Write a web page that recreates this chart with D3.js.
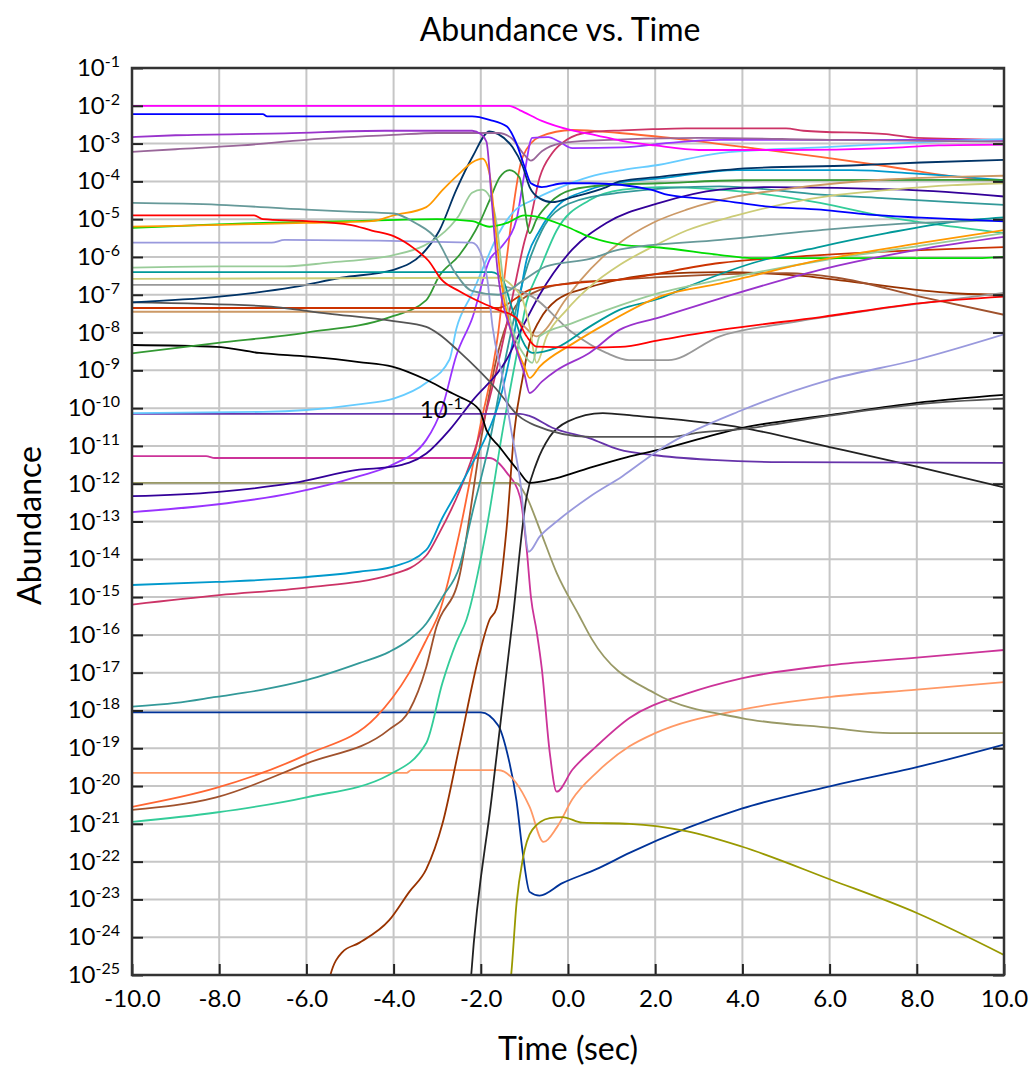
<!DOCTYPE html>
<html>
<head>
<meta charset="utf-8">
<script src="https://cdn.jsdelivr.net/npm/d3@7"></script>
<style>
  body { margin: 0; background: #fff; }
  svg { display: block; font-family: Lato, "Open Sans", sans-serif; }
</style>
</head>
<body>
<svg id="chart" width="1033" height="1068"></svg>
<script>
// axis ticks
const yExponents = d3.range(-25, 0);          // 10^-25 ... 10^-1
const timeTicks = d3.range(-10, 11, 2);

// each series: [time (sec), log10(abundance)]
const magenta = [[-10,-2],[-1.35,-2],[-1.1,-2.12],[-0.6,-2.4],[0.05,-2.64],[0.65,-2.78],[1.2,-2.92],[2.0,-3.05],[3,-3.17],[5,-3.17],[7.3,-3.12],[8.5,-3.05],[10,-3.03]];
const blue = [[-10,-2.22],[-7,-2.22],[-6.9,-2.28],[-2.2,-2.28],[-1.8,-2.37],[-1.4,-2.55],[-1.2,-2.95],[-1.0,-3.6],[-0.85,-4.05],[-0.6,-4.15],[-0.1,-4.05],[0.5,-4.05],[1.9,-4.22],[2.3,-4.36],[3.5,-4.5],[4.6,-4.67],[5.8,-4.75],[6.9,-4.88],[8.1,-4.96],[10,-5.06]];
const orchid = [[-10,-2.83],[-9,-2.78],[-6.5,-2.73],[-4.2,-2.66],[-2.2,-2.66],[-2.0,-2.75],[-1.87,-2.95],[-1.75,-4.5],[-1.62,-6.3],[-1.3,-8.0],[-1.0,-9.1],[-0.88,-9.6],[-0.6,-9.3],[-0.26,-9.0],[0.49,-8.54],[1.18,-7.93],[2.1,-7.6],[3.48,-7.1],[5.78,-6.34],[8.07,-5.8],[10,-5.47]];
const plum = [[-10,-3.22],[-9,-3.15],[-7.5,-3.05],[-6,-2.9],[-4,-2.77],[-3,-2.72],[-1.6,-2.72],[-1.3,-2.85],[-1.0,-3.3],[-0.85,-3.45],[-0.6,-3.2],[-0.2,-3.0],[0.5,-2.92],[3,-2.85],[6,-2.9],[10,-2.95]];
const cadet = [[-10,-4.57],[-8,-4.62],[-6,-4.75],[-5,-4.8],[-4,-4.85],[-3.5,-5.1],[-3,-5.55],[-2.6,-6.4],[-2.2,-6.9],[-1.6,-7.0],[-1.0,-6.6],[-0.5,-6.25],[0.5,-6.05],[1.2,-5.8],[3.5,-5.55],[5.8,-5.29],[8,-5.1],[10,-5.03]];
const red = [[-10,-4.9],[-7.2,-4.9],[-7,-5.0],[-6,-5.05],[-5,-5.15],[-4.5,-5.3],[-4,-5.45],[-3.5,-5.8],[-3.2,-6.1],[-2.9,-6.6],[-2.5,-6.9],[-2.0,-7.2],[-1.6,-7.4],[-1.2,-7.6],[-0.95,-8.1],[-0.72,-8.37],[0.5,-8.4],[1.2,-8.38],[2.1,-8.2],[3.5,-7.93],[5.8,-7.59],[8.1,-7.22],[10,-7.05]];
const orange = [[-10,-5.2],[-8,-5.15],[-6,-5.1],[-4.5,-5.05],[-4,-4.9],[-3.25,-4.68],[-2.88,-4.23],[-2.5,-3.8],[-2.2,-3.5],[-1.96,-3.4],[-1.8,-3.8],[-1.7,-4.8],[-1.55,-6.5],[-1.3,-8.0],[-1.0,-8.9],[-0.88,-9.2],[-0.65,-8.9],[0.1,-8.3],[0.9,-7.75],[2.1,-7.05],[3.5,-6.7],[5.8,-6.08],[8.1,-5.63],[10,-5.29]];
const green = [[-10,-5.23],[-7,-5.1],[-5,-5.05],[-3,-5.0],[-2.2,-5.05],[-1.8,-5.2],[-1.4,-5.1],[-1.0,-4.9],[-0.65,-4.95],[-0.03,-5.2],[0.5,-5.47],[1.25,-5.68],[2.1,-5.75],[3.5,-5.95],[4.2,-6.03],[9.5,-6.03],[10,-6.0]];
const periwinkle = [[-10,-5.62],[-6.8,-5.62],[-6.5,-5.55],[-2.2,-5.62],[-2.0,-5.9],[-1.85,-6.6],[-1.73,-7.85],[-1.5,-9.2],[-1.3,-10.6],[-1.1,-11.9],[-0.9,-13.8],[-0.65,-13.4],[-0.26,-13.0],[0.49,-12.35],[1.25,-11.8],[2.1,-11.1],[4,-10.05],[6,-9.25],[8,-8.72],[10,-8.05]];
const lightGreen = [[-10,-6.28],[-8,-6.25],[-6.5,-6.25],[-5.5,-6.15],[-4,-5.95],[-3.3,-5.7],[-2.95,-5.45],[-2.5,-4.9],[-2.2,-4.3],[-1.97,-4.22],[-1.8,-4.4],[-1.64,-5.1],[-1.5,-6.5],[-1.25,-8.0],[-1.0,-8.6],[-0.82,-8.8],[-0.65,-8.1],[0.1,-7.75],[0.9,-7.4],[2.1,-6.95],[3.5,-6.6],[5.8,-6.1],[8.1,-5.7],[10,-5.37]];
const teal = [[-10,-6.4],[-1.75,-6.4],[-1.5,-6.6],[-1.3,-7.3],[-1.05,-8.2],[-0.82,-8.54],[-0.26,-8.4],[0.49,-7.85],[1.18,-7.4],[2.1,-7.1],[2.72,-6.8],[4.24,-6.16],[5.78,-5.73],[7.31,-5.37],[8.83,-5.07],[10,-4.95]];
const khaki = [[-10,-6.58],[-1.6,-6.55],[-1.25,-6.8],[-1.04,-7.13],[-0.88,-7.85],[-0.72,-8.8],[-0.49,-8.1],[-0.03,-7.4],[0.49,-6.8],[1.2,-6.2],[1.94,-5.73],[2.72,-5.3],[3.87,-4.9],[5.02,-4.58],[6.17,-4.36],[7.31,-4.23],[8.83,-4.1],[10,-4.05]];
const gray = [[-10,-6.74],[-2,-6.74],[-1.4,-6.8],[-0.82,-7.05],[0.1,-8.0],[0.88,-8.54],[1.4,-8.73],[2.3,-8.73],[3.48,-8.1],[5.02,-7.75],[7,-7.4],[10,-6.95]];
const navy = [[-10,-7.2],[-8,-7.05],[-6.3,-6.8],[-5.2,-6.55],[-4,-6.34],[-3.25,-5.8],[-2.95,-5.3],[-2.56,-4.22],[-2.19,-3.35],[-1.8,-2.68],[-1.6,-2.75],[-1.27,-3.1],[-1.04,-3.6],[-0.88,-4.15],[-0.65,-4.45],[-0.36,-4.55],[0.1,-4.42],[0.88,-4.15],[1.18,-4.0],[2.1,-3.88],[2.7,-3.8],[4.2,-3.65],[6.5,-3.58],[8.1,-3.5],[10,-3.43]];
const darkGray = [[-10,-7.2],[-7,-7.3],[-5.5,-7.5],[-4,-7.7],[-3.25,-7.85],[-2.95,-8.05],[-2.5,-8.5],[-1.64,-9.5],[-1.14,-10.2],[-0.77,-10.45],[0.5,-10.76],[2.33,-10.76],[3.0,-10.65],[4.0,-10.55],[6.0,-10.2],[8,-9.9],[10,-9.75]];
const brick = [[-10,-7.35],[-1.6,-7.35],[-1.2,-7.1],[-0.88,-6.87],[0.1,-6.7],[1.18,-6.6],[3.48,-6.16],[5.78,-5.95],[10,-5.74]];
const tan = [[-10,-7.45],[-1.6,-7.45],[-1.2,-7.6],[-0.95,-7.9],[-0.72,-8.1],[-0.5,-7.9],[-0.1,-7.2],[0.3,-6.6],[0.8,-6.0],[1.18,-5.63],[1.94,-5.1],[2.72,-4.75],[3.87,-4.4],[5.02,-4.2],[6.17,-4.05],[7.31,-3.95],[8.83,-3.88],[10,-3.85]];
const black = [[-10,-8.33],[-8.07,-8.38],[-7.08,-8.54],[-5.94,-8.64],[-4.79,-8.78],[-4.03,-8.9],[-3.25,-9.25],[-2.72,-9.57],[-2.49,-9.7],[-2.03,-10.05],[-1.87,-10.58],[-1.57,-11.03],[-1.11,-11.7],[-0.88,-11.98],[-0.26,-11.85],[0.49,-11.58],[1.34,-11.3],[2.1,-11.1],[4.0,-10.52],[6.03,-10.18],[8.0,-9.86],[10,-9.65]];
const darkGreen = [[-10,-8.55],[-8.07,-8.28],[-6,-8.0],[-4.1,-7.6],[-3.25,-7.14],[-2.95,-6.5],[-2.49,-5.95],[-2.03,-5.1],[-1.8,-4.5],[-1.57,-3.9],[-1.34,-3.7],[-1.11,-3.9],[-1.0,-4.67],[-0.88,-5.37],[-0.72,-5.0],[-0.42,-4.57],[0.1,-4.22],[0.88,-4.1],[2.1,-4.05],[4,-3.97],[10,-3.96]];
const sky = [[-10,-10.13],[-7,-10.1],[-6,-10.05],[-4.8,-9.9],[-4,-9.75],[-3.25,-9.33],[-2.72,-8.72],[-2.56,-7.9],[-2.19,-6.95],[-1.87,-6.08],[-1.6,-5.4],[-1.2,-4.75],[-0.82,-4.5],[-0.26,-4.2],[0.49,-3.88],[1.25,-3.7],[2.1,-3.56],[3.48,-3.25],[5.78,-3.1],[8,-2.97],[10,-2.88]];
const rebecca = [[-10,-10.15],[-1.1,-10.15],[-0.9,-10.2],[-0.36,-10.52],[0.5,-10.8],[1.18,-11.1],[1.94,-11.24],[3.3,-11.37],[4.9,-11.43],[10,-11.45]];
const pink = [[-10,-11.27],[-8.3,-11.27],[-8.1,-11.32],[-1.8,-11.32],[-1.41,-11.7],[-1.1,-12.35],[-0.95,-13.7],[-0.85,-15.0],[-0.72,-15.9],[-0.6,-16.9],[-0.42,-19.1],[-0.26,-20.15],[0.1,-19.57],[0.65,-18.95],[1.41,-18.2],[2.74,-17.55],[3.98,-17.15],[6.03,-16.8],[8.0,-16.6],[10,-16.4]];
const oliveGray = [[-10,-11.98],[-1.2,-11.98],[-0.95,-12.35],[-0.65,-13.2],[-0.26,-14.36],[0.26,-15.5],[0.54,-16.1],[2.0,-17.55],[3.98,-18.2],[6.03,-18.46],[7.4,-18.6],[10,-18.6]];
const indigo = [[-10,-12.33],[-8.07,-12.22],[-6.3,-11.98],[-4.79,-11.63],[-4.03,-11.55],[-3.25,-11.2],[-2.72,-10.58],[-2.19,-9.8],[-1.41,-8.72],[-1.04,-7.85],[-0.65,-7.0],[0.1,-5.8],[0.88,-5.1],[2.1,-4.57],[3.48,-4.22],[4.63,-4.15],[7.7,-4.22],[10,-4.4]];
const violet = [[-10,-12.75],[-8.07,-12.55],[-6.33,-12.25],[-4.79,-11.8],[-4.03,-11.5],[-3.25,-10.84],[-2.88,-9.97],[-2.56,-8.6],[-2.19,-7.6],[-1.8,-6.08],[-1.5,-5.7],[-1.18,-5.0],[-1.0,-3.8],[-0.82,-2.85],[-0.45,-2.83],[-0.2,-2.95],[0.1,-3.12],[1.25,-3.1],[2.33,-2.98],[3.5,-2.9],[10,-2.9]];
const cerulean = [[-10,-14.68],[-8.07,-14.6],[-6.33,-14.5],[-4.79,-14.33],[-4.03,-14.2],[-3.25,-13.75],[-2.88,-12.9],[-2.49,-12.1],[-2.19,-11.45],[-1.9,-10.8],[-1.57,-9.8],[-1.27,-8.27],[-0.95,-6.08],[-0.65,-5.3],[-0.26,-4.67],[0.49,-4.22],[1.25,-4.02],[2.1,-3.92],[3.87,-3.7],[6.5,-3.7],[8.07,-3.8],[10,-3.97]];
const crimson = [[-10,-15.2],[-8,-14.95],[-6,-14.75],[-4.03,-14.4],[-3.25,-13.9],[-2.95,-13.3],[-2.49,-12.2],[-2.0,-10.6],[-1.6,-8.8],[-1.3,-7.2],[-1.0,-5.6],[-0.88,-5.1],[-0.65,-3.9],[-0.36,-3.25],[-0.03,-2.9],[0.49,-2.7],[1.25,-2.65],[1.94,-2.62],[2.7,-2.6],[5,-2.6],[5.4,-2.66],[7.3,-2.75],[8.0,-2.85],[10,-2.9]];
const tealGray = [[-10,-17.9],[-9,-17.8],[-8.07,-17.64],[-7,-17.45],[-6,-17.2],[-4.79,-16.75],[-4.1,-16.45],[-3.64,-16.13],[-3.25,-15.7],[-2.88,-15.0],[-2.49,-14.2],[-2.2,-12.8],[-1.8,-10.9],[-1.4,-8.5],[-1.0,-6.5],[-0.6,-5.3],[0,-4.6],[1.18,-4.3],[3.48,-4.13],[5.8,-4.35],[7.3,-4.45],[8.8,-4.55],[10,-4.62]];
const aquamarine = [[-10,-20.95],[-8.07,-20.7],[-6,-20.3],[-4.1,-19.7],[-3.25,-18.86],[-2.88,-17.27],[-2.56,-16.2],[-2.33,-15.6],[-1.87,-13.2],[-1.5,-10.6],[-1.18,-8.6],[-0.95,-7.2],[-0.65,-6.34],[-0.26,-5.3],[0.49,-4.5],[1.25,-4.22],[2.1,-4.15],[4.24,-4.3],[5.78,-4.57],[7.31,-4.94],[8.83,-5.2],[10,-5.37]];
const tomato = [[-10,-20.55],[-8.07,-20.05],[-6,-19.17],[-4.4,-18.17],[-4.03,-17.67],[-3.64,-17.0],[-3.25,-16.13],[-2.95,-15.4],[-2.49,-13.3],[-2.03,-10.58],[-1.6,-8.0],[-1.41,-6.08],[-1.04,-3.35],[-0.65,-2.82],[0.1,-2.64],[1.18,-2.72],[2.7,-2.9],[4.24,-3.12],[5.78,-3.35],[7.31,-3.6],[8.83,-3.87],[10,-4.0]];
const sienna = [[-10,-20.63],[-8.07,-20.3],[-6,-19.4],[-4.1,-18.5],[-3.64,-18.0],[-3.25,-16.85],[-3.02,-15.8],[-2.5,-14.5],[-1.96,-10.6],[-1.6,-8.5],[-1.2,-7.3],[-0.8,-6.95],[0,-6.7],[1.18,-6.6],[2.72,-6.5],[5.02,-6.43],[6.17,-6.55],[8.07,-7.05],[10,-7.53]];
const darkBrown = [[-5.55,-25.5],[-5.45,-25.0],[-5.18,-24.4],[-4.79,-24.15],[-4.1,-23.55],[-3.64,-22.8],[-3.25,-22.2],[-2.88,-21.0],[-2.49,-18.95],[-2.03,-16.5],[-1.8,-15.6],[-1.64,-15.3],[-1.41,-13.2],[-1.23,-10.6],[-1.04,-9.2],[-0.88,-8.27],[-0.65,-7.67],[-0.26,-7.14],[0.49,-6.8],[1.18,-6.6],[2.1,-6.45],[3.48,-6.4],[5.38,-6.5],[6.53,-6.66],[8.83,-6.96],[10,-7.0]];
const darkBlue = [[-10,-18.05],[-2.0,-18.05],[-1.6,-18.4],[-1.4,-19.1],[-1.18,-20.4],[-1.04,-21.75],[-0.88,-22.8],[-0.65,-22.9],[-0.13,-22.57],[0.65,-22.2],[1.41,-21.77],[3.98,-20.6],[6.03,-20.0],[8.0,-19.5],[10,-18.9]];
const salmon = [[-10,-19.65],[-3.7,-19.65],[-3.6,-19.58],[-1.6,-19.58],[-1.2,-19.9],[-0.88,-20.55],[-0.56,-21.48],[-0.26,-21.1],[0.1,-20.35],[0.65,-19.65],[1.41,-18.95],[2.0,-18.6],[3.98,-17.98],[6.03,-17.64],[8.0,-17.45],[10,-17.25]];
const blackSteep = [[-2.25,-25.5],[-2.22,-25.0],[-1.75,-20.3],[-1.27,-15.6],[-0.95,-12.35],[-0.72,-11.45],[-0.42,-10.76],[0,-10.35],[0.8,-10.13],[1.5,-10.2],[4.0,-10.52],[6.0,-11.03],[8.0,-11.55],[10,-12.1]];
const olive = [[-1.35,-25.5],[-1.3,-24.95],[-1.18,-23.1],[-1.04,-21.95],[-0.82,-21.16],[-0.42,-20.85],[-0.13,-20.82],[0.33,-20.97],[1.41,-21.0],[2.74,-21.2],[3.98,-21.6],[6.03,-22.48],[8.0,-23.36],[10,-24.47]];

const seriesList = [
    [darkBlue, "#003399"], [salmon, "#ff9966"], [olive, "#999900"], [pink, "#cc3399"],
    [oliveGray, "#999966"], [blackSteep, "#222222"], [darkBrown, "#993300"], [sienna, "#a0522d"],
    [tomato, "#ff6633"], [aquamarine, "#33cc99"], [tealGray, "#339999"], [crimson, "#cc3366"],
    [cerulean, "#0099cc"], [violet, "#9933ff"], [indigo, "#330099"], [rebecca, "#6633aa"],
    [sky, "#66ccff"], [black, "#000000"], [darkGreen, "#339933"], [tan, "#cc9966"],
    [brick, "#cc3300"], [darkGray, "#555555"], [navy, "#003366"], [gray, "#999999"],
    [khaki, "#cccc77"], [teal, "#009999"], [lightGreen, "#99cc99"], [periwinkle, "#9999dd"],
    [green, "#00dd00"], [orange, "#ff9900"], [red, "#ff0000"], [cadet, "#669999"],
    [plum, "#996699"], [orchid, "#9933cc"], [blue, "#0000ff"], [magenta, "#ff00ff"]
];

const margin = {top: 68, right: 29, bottom: 93, left: 132},
      width = 1033 - margin.left - margin.right,
      height = 1068 - margin.top - margin.bottom;

const svg = d3.select("#chart");
const g = svg.append("g").attr("transform", `translate(${margin.left},${margin.top})`);

const x = d3.scaleLinear().domain([-10, 10]).range([0, width]);
const y = d3.scaleLog().domain([1e-25, 1e-1]).range([height, 0]);

// grid
g.append("g").selectAll("line")
    .data(yExponents.slice(1))
    .join("line")
    .attr("x1", 0).attr("x2", width)
    .attr("y1", d => y(10 ** d)).attr("y2", d => y(10 ** d))
    .attr("stroke", "#c6c6c6").attr("stroke-width", 2);
g.append("g").selectAll("line")
    .data(timeTicks.slice(1, -1))
    .join("line")
    .attr("x1", d => x(d)).attr("x2", d => x(d))
    .attr("y1", 0).attr("y2", height)
    .attr("stroke", "#c6c6c6").attr("stroke-width", 2);

// lines
svg.append("defs").append("clipPath").attr("id", "plot-clip")
    .append("rect").attr("width", width).attr("height", height);

const line = d3.line()
    .x(d => x(d[0]))
    .y(d => y(10 ** d[1]))
    .curve(d3.curveMonotoneX);

g.append("g").attr("clip-path", "url(#plot-clip)")
    .selectAll("path")
    .data(seriesList)
    .join("path")
    .attr("fill", "none")
    .attr("stroke", d => d[1])
    .attr("stroke-width", 1.8)
    .attr("stroke-linejoin", "round")
    .attr("d", d => line(d[0]));

// inward ticks
const tickVals = yExponents.map(e => 10 ** e);
g.append("g")
    .call(d3.axisLeft(y).tickValues(tickVals).tickSize(-11).tickFormat(""))
    .call(a => a.select(".domain").remove())
    .selectAll("line").attr("stroke", "#222").attr("stroke-width", 2);
g.append("g").attr("transform", `translate(${width},0)`)
    .call(d3.axisRight(y).tickValues(tickVals).tickSize(-11).tickFormat(""))
    .call(a => a.select(".domain").remove())
    .selectAll("line").attr("stroke", "#222").attr("stroke-width", 2);
const xAxis = g.append("g").attr("transform", `translate(0,${height})`)
    .call(d3.axisBottom(x).tickValues(timeTicks).tickSize(-11).tickPadding(15).tickFormat(d => d.toFixed(1)));
xAxis.select(".domain").remove();
xAxis.selectAll("line").attr("stroke", "#222").attr("stroke-width", 2);
xAxis.selectAll("text")
    .attr("font-family", "Lato, 'Open Sans', sans-serif")
    .attr("font-size", 24).attr("fill", "#000");

// y labels 10^n
const yLabels = g.append("g").selectAll("text")
    .data(yExponents)
    .join("text")
    .attr("x", -12)
    .attr("y", d => y(10 ** d) + 8)
    .attr("text-anchor", "end")
    .attr("font-size", 24)
    .attr("fill", "#000");
yLabels.append("tspan").text("10");
yLabels.append("tspan").attr("dy", -9).attr("font-size", 16).text(d => String(d));

// frame
g.append("rect")
    .attr("width", width).attr("height", height)
    .attr("fill", "none").attr("stroke", "#333").attr("stroke-width", 2.5);

// stray label inside the plot
const stray = g.append("text")
    .attr("x", x(-3.4)).attr("y", y(10 ** -10.26))
    .attr("font-size", 24).attr("fill", "#000");
stray.append("tspan").text("10");
stray.append("tspan").attr("dy", -9).attr("font-size", 16).text("-1");

// titles
svg.append("text")
    .attr("x", 560).attr("y", 41)
    .attr("text-anchor", "middle")
    .attr("font-size", 32)
    .text("Abundance vs. Time");
svg.append("text")
    .attr("x", margin.left + width / 2).attr("y", 1060)
    .attr("text-anchor", "middle")
    .attr("font-size", 32)
    .text("Time (sec)");
svg.append("text")
    .attr("transform", `translate(41,${margin.top + height / 2 + 4}) rotate(-90)`)
    .attr("text-anchor", "middle")
    .attr("font-size", 32)
    .text("Abundance");
</script>
</body>
</html>
